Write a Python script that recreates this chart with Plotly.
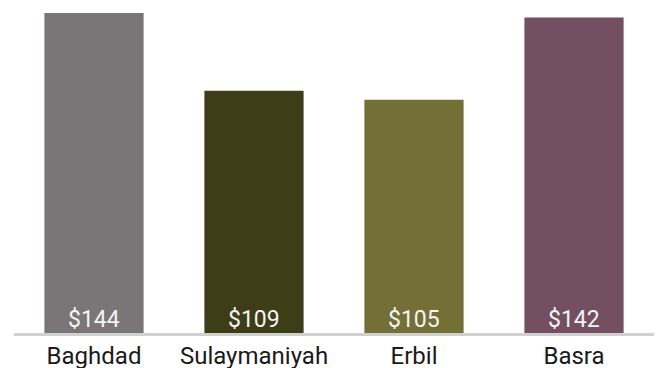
import plotly.graph_objects as go

# Average values per city
cities = ["Baghdad", "Sulaymaniyah", "Erbil", "Basra"]
values = [144, 109, 105, 142]
colors = ["#7a7576", "#3d3d18", "#746e37", "#734f61"]
value_labels = [f"${v}" for v in values]

fig = go.Figure(
    go.Bar(
        x=cities,
        y=values,
        marker=dict(color=colors, line=dict(width=0)),
        width=0.62,
        hoverinfo="skip",
    )
)

# Value labels sitting at the foot of each bar
for city, label in zip(cities, value_labels):
    fig.add_annotation(
        x=city,
        y=0,
        xref="x",
        yref="y",
        text=label,
        showarrow=False,
        yanchor="bottom",
        yshift=-2,
        font=dict(family="Roboto", size=23, color="#f4f4f4"),
    )

# Light baseline just under the bars
fig.add_shape(
    type="line",
    xref="paper",
    yref="paper",
    ysizemode="pixel",
    yanchor=0,
    x0=0.0,
    x1=1.0,
    y0=-1.5,
    y1=-1.5,
    line=dict(color="#d0d0d0", width=3),
    layer="below",
)

fig.update_layout(
    width=656,
    height=368,
    margin=dict(l=14, r=2, t=13, b=35, autoexpand=False),
    paper_bgcolor="white",
    plot_bgcolor="white",
    showlegend=False,
    xaxis=dict(
        automargin=False,
        showline=False,
        showgrid=False,
        ticks="",
        ticklabelstandoff=6,
        tickfont=dict(family="Roboto", size=24, color="#1a1a1a"),
        fixedrange=True,
    ),
    yaxis=dict(
        range=[0, 144],
        visible=False,
        showgrid=False,
        zeroline=False,
        fixedrange=True,
    ),
)

fig.write_html("out.html")
